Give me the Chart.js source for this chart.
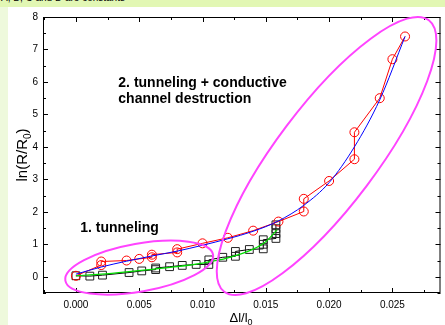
<!DOCTYPE html>
<html>
<head>
<meta charset="utf-8">
<script src="https://cdn.jsdelivr.net/npm/chart.js@4.4.1/dist/chart.umd.min.js"></script>
<style>
    html, body { margin: 0; padding: 0; }
    body {
        width: 445px; height: 325px; overflow: hidden; position: relative;
        background: #eef9dc;
        font-family: "Liberation Sans", Arial, sans-serif;
    }
    #band {
        position: absolute; left: 0; top: 0; width: 445px; height: 7px;
        background: #e2f7b4; overflow: hidden;
    }
    #band span {
        position: absolute; left: 1px; top: -7px;
        font-size: 10px; line-height: 10px; color: #000; white-space: nowrap;
    }
    #panel { position: absolute; left: 8px; top: 7px; right: 0; bottom: 0; background: #fff; }
    #chart { position: absolute; left: 0; top: 0; }
</style>
</head>
<body>
<div id="band"><span>A, B, C and D are constants</span></div>
<div id="panel"></div>
<canvas id="chart" width="447" height="325"></canvas>
<script>
// измеренные точки (красные кружки)
const redX = [0, 0.002, 0.002, 0.004, 0.005, 0.006, 0.006, 0.008, 0.008, 0.010, 0.012,
    0.014, 0.016, 0.018, 0.018, 0.020, 0.022, 0.022, 0.024, 0.025, 0.026];
const redY = [0.03, 0.36, 0.47, 0.50, 0.55, 0.60, 0.68, 0.75, 0.85, 1.03, 1.20,
    1.42, 1.70, 2.01, 2.40, 2.95, 3.62, 4.45, 5.50, 6.70, 7.40];

// чёрные квадраты
const blackX = [0, 0.0011, 0.0021, 0.0042, 0.0052, 0.0063, 0.0063, 0.0074, 0.0084, 0.0095,
    0.0105, 0.0105, 0.0116, 0.0126, 0.0126, 0.0137, 0.0148, 0.0148, 0.0148,
    0.0158, 0.0158, 0.0158, 0.0158];
const blackY = [0.03, 0.02, 0.05, 0.13, 0.18, 0.22, 0.27, 0.31, 0.35, 0.38,
    0.38, 0.52, 0.60, 0.63, 0.78, 0.84, 0.86, 1.00, 1.14,
    1.18, 1.33, 1.48, 1.60];

// аппроксимации
const blueX = [0, 0.002, 0.004, 0.006, 0.008, 0.010, 0.012, 0.014, 0.016, 0.018, 0.020, 0.022, 0.024, 0.026];
const blueY = [0.08, 0.30, 0.48, 0.64, 0.79, 0.97, 1.17, 1.40, 1.72, 2.20, 2.90, 4.00, 5.45, 7.40];
const greenX = [0, 0.002, 0.004, 0.006, 0.008, 0.010, 0.012, 0.014, 0.015, 0.0159];
const greenY = [0.03, 0.08, 0.15, 0.23, 0.31, 0.42, 0.58, 0.85, 1.08, 1.45];

const regionLabels = ['1. tunneling', '2. tunneling + conductive', 'channel destruction'];
const xTitle = ['\u0394l/l', '0'];
const yTitle = ['ln(R/R', '0', ')'];

const FONT = '"Liberation Sans", Arial, sans-serif';
const pts = (xs, ys) => xs.map((v, i) => ({ x: v, y: ys[i] }));

const decorPlugin = {
    id: 'decor',
    afterDatasetsDraw(chart) {
        const { ctx, chartArea: a, scales: { x, y } } = chart;
        ctx.save();

        // рамка
        ctx.strokeStyle = '#000';
        ctx.lineWidth = 1;
        ctx.strokeRect(a.left + 0.5, a.top + 0.5, a.right - a.left - 1, a.bottom - a.top - 1);

        // внутренние засечки
        const drawTicks = (scale, horizontal) => {
            const vals = scale.ticks.map(t => t.value);
            const step = vals[1] - vals[0];
            const minor = [];
            vals.forEach(v => {
                [v - step / 2, v + step / 2].forEach(m => {
                    if (m >= scale.min && m <= scale.max && !minor.some(q => Math.abs(q - m) < step / 10)) minor.push(m);
                });
            });
            const list = vals.map(v => [v, 5]).concat(minor.map(v => [v, 3]));
            ctx.beginPath();
            list.forEach(([v, len]) => {
                const p = Math.round(scale.getPixelForValue(v)) + 0.5;
                if (horizontal) {
                    ctx.moveTo(p, a.bottom); ctx.lineTo(p, a.bottom - len);
                    ctx.moveTo(p, a.top); ctx.lineTo(p, a.top + len);
                } else {
                    ctx.moveTo(a.left, p); ctx.lineTo(a.left + len, p);
                    ctx.moveTo(a.right, p); ctx.lineTo(a.right - len, p);
                }
            });
            ctx.stroke();
        };
        drawTicks(x, true);
        drawTicks(y, false);

        // эллипсы областей
        ctx.strokeStyle = '#ff44ff';
        ctx.lineWidth = 2;
        [
            { cx: 0.0050, cy: 0.28, rx: 75, ry: 24, rot: -10 },
            { cx: 0.0198, cy: 3.72, rx: 170, ry: 50, rot: -53 },
        ].forEach(e => {
            ctx.beginPath();
            ctx.ellipse(x.getPixelForValue(e.cx), y.getPixelForValue(e.cy), e.rx, e.ry,
                e.rot * Math.PI / 180, 0, Math.PI * 2);
            ctx.stroke();
        });

        // подписи областей
        ctx.fillStyle = '#000';
        ctx.font = 'bold 14px ' + FONT;
        ctx.textAlign = 'left';
        ctx.textBaseline = 'alphabetic';
        ctx.fillText(regionLabels[0], x.getPixelForValue(0.00034), y.getPixelForValue(1.39));
        ctx.fillText(regionLabels[1], x.getPixelForValue(0.00335), y.getPixelForValue(5.85));
        ctx.fillText(regionLabels[2], x.getPixelForValue(0.00335), y.getPixelForValue(5.35));

        // подписи осей с нижним индексом
        const drawTitle = (parts, cx, cy, rotate, size) => {
            ctx.save();
            ctx.translate(cx, cy);
            if (rotate) ctx.rotate(-Math.PI / 2);
            const big = size + 'px ' + FONT, small = Math.round(size * 0.68) + 'px ' + FONT;
            const sizes = parts.map((s, i) => { ctx.font = i === 1 ? small : big; return ctx.measureText(s).width; });
            let px = -sizes.reduce((s, w) => s + w, 0) / 2;
            parts.forEach((s, i) => {
                ctx.font = i === 1 ? small : big;
                ctx.fillText(s, px, i === 1 ? size * 0.25 : 0);
                px += sizes[i];
            });
            ctx.restore();
        };
        drawTitle(yTitle, 27, (a.top + a.bottom) / 2, true, 15);
        drawTitle(xTitle, 241, 322, false, 13);

        ctx.restore();
    },
};

const tickFont = { family: FONT, size: 10 };

new Chart(document.getElementById('chart'), {
    type: 'scatter',
    data: {
        datasets: [{
            data: pts(blueX, blueY),
            showLine: true,
            borderColor: '#0000ff',
            borderWidth: 1,
            pointRadius: 0,
            cubicInterpolationMode: 'monotone',
        }, {
            data: pts(greenX, greenY),
            showLine: true,
            borderColor: '#00dd00',
            borderWidth: 1.2,
            pointRadius: 0,
            cubicInterpolationMode: 'monotone',
        }, {
            data: pts(redX, redY),
            showLine: true,
            borderColor: '#ff0000',
            borderWidth: 1,
            pointStyle: 'circle',
            pointRadius: 4.5,
            pointBorderColor: '#ff0000',
            pointBackgroundColor: 'rgba(255,255,255,0)',
            pointBorderWidth: 1,
        }, {
            data: pts(blackX, blackY),
            showLine: true,
            borderColor: '#000',
            borderWidth: 1,
            pointStyle: 'rect',
            pointRadius: 5.5,
            pointBorderColor: '#222',
            pointBackgroundColor: 'rgba(255,255,255,0)',
            pointBorderWidth: 1,
        }],
    },
    options: {
        responsive: false,
        animation: false,
        layout: { padding: { top: 17, right: 0, bottom: 0, left: 0 } },
        plugins: {
            legend: { display: false },
            tooltip: { enabled: false },
        },
        scales: {
            x: {
                type: 'linear',
                min: -0.0026,
                max: 0.0288,
                grid: { display: false, drawTicks: false },
                border: { display: false },
                ticks: {
                    stepSize: 0.005,
                    includeBounds: false,
                    padding: 6,
                    maxRotation: 0,
                    autoSkip: false,
                    color: '#000',
                    font: tickFont,
                    callback: (v) => Number(v).toFixed(3),
                },
                afterFit: (s) => { s.height = 32; },
            },
            y: {
                type: 'linear',
                min: -0.5,
                max: 8,
                grid: { display: false, drawTicks: false },
                border: { display: false },
                ticks: {
                    stepSize: 1,
                    includeBounds: false,
                    padding: 5,
                    color: '#000',
                    font: tickFont,
                },
                afterFit: (s) => { s.width = 43; },
            },
        },
    },
    plugins: [decorPlugin],
});
</script>
</body>
</html>
